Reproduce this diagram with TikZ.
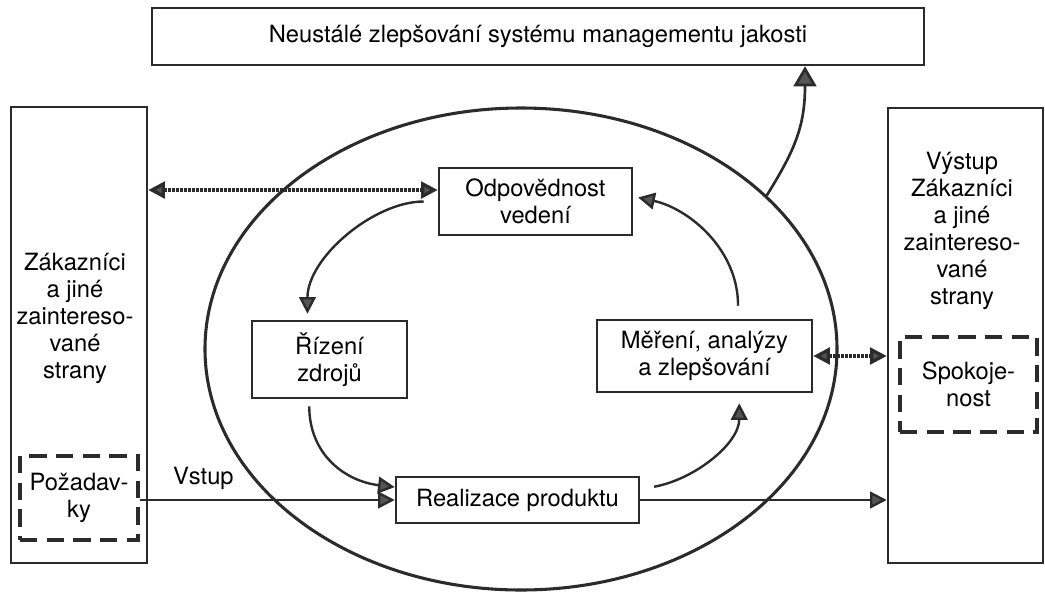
\documentclass[tikz,border=0pt]{standalone}
\usepackage{fontspec}
\setmainfont{TeX Gyre Heros}
\usetikzlibrary{arrows.meta,shapes.geometric}

\definecolor{ink}{HTML}{2B2B2B}
\definecolor{tipfill}{HTML}{555555}
\newdimen\pxu \pxu=0.75pt

\tikzset{
  box/.style={draw=ink, line width=1.9pt, inner sep=0pt, align=center},
  dashbox/.style={draw=ink, line width=2.3pt, dash pattern=on 13pt off 7pt, inner sep=0pt, align=center},
  txt/.style={align=center, inner sep=0pt},
  flow/.style={draw=ink, line width=1.8pt, ->},
  dotflow/.style={draw=ink, line width=2.5pt, dash pattern=on 1.9pt off 1.1pt, <->},
  bigflow/.style={draw=ink, line width=2pt, -{Triangle[length=15pt, width=17pt, fill=tipfill]}}
}

\begin{document}
\begin{tikzpicture}[x=0.75pt, y=-0.75pt, line cap=butt,
    font=\fontsize{17.8}{20.25}\selectfont,
    >={Triangle[length=12.5pt, width=12.5pt, fill=tipfill]}]
  \useasboundingbox (0,0) rectangle (1045,593);
  % outer frames
  \node[box, minimum width=772\pxu, minimum height=57\pxu] (qms) at (538,36.5) {Neustálé zlepšování systému managementu jakosti};
  \node[box, minimum width=136\pxu, minimum height=456\pxu] (cust) at (79,335) {};
  \node[txt] (custtext) at (75,318) {Zákazníci\\a jiné\\zaintereso-\\vané\\strany};
  \node[dashbox, minimum width=118\pxu, minimum height=84\pxu] (req) at (79,498) {Požadav-\\ky};
  \node[box, minimum width=155\pxu, minimum height=455\pxu] (out) at (965.5,335.5) {};
  \node[txt] (outtext) at (962,231) {Výstup\\Zákazníci\\a jiné\\zaintereso-\\vané\\strany};
  \node[dashbox, minimum width=137\pxu, minimum height=95\pxu] (sat) at (968.5,384.5) {Spokoje-\\nost};
  % process loop
  \node[draw=ink, line width=2.3pt, ellipse, inner sep=0pt,
        minimum width=632\pxu, minimum height=482\pxu] (loop) at (521,349) {};
  \node[box, minimum width=193\pxu, minimum height=67\pxu] (lead) at (535.5,201.5) {Odpovědnost\\vedení};
  \node[box, minimum width=155\pxu, minimum height=77\pxu] (res) at (329.5,359.5) {Řízení\\zdrojů};
  \node[box, minimum width=215\pxu, minimum height=72\pxu] (meas) at (704.5,356) {Měření, analýzy\\a zlepšování};
  \node[box, minimum width=243\pxu, minimum height=46\pxu] (prod) at (517.5,500) {Realizace produktu};

  % information links
  \path ([yshift=8.6pt]lead.west) coordinate (leadin);
  \draw[dotflow] (cust.east |- leadin) -- (leadin);
  \draw[dotflow] (meas.east) -- (meas.east -| out.west);

  % input and output
  \draw[flow] (prod.west -| req.east) -- node[txt, pos=0.25, above=7pt] (vstup) {Vstup} (prod.west);
  \draw[flow] (prod.east) -- (prod.east -| out.west);

  % the cycle
  \draw[flow, shorten <=14\pxu, shorten >=6\pxu] (lead.west) .. controls +(-64,0) and +(0,-62) .. (res.119);
  \draw[flow, shorten <=7\pxu] (res.243) .. controls +(0,55) and +(-50,-6) .. (prod.174);
  \draw[flow, shorten <=14\pxu, shorten >=10\pxu] (prod.5) .. controls +(55,-10) and +(0,50) .. (meas.313);
  \draw[flow, shorten <=13\pxu, shorten >=5\pxu] (meas.48) .. controls +(0,-70) and +(55,12) .. (lead.3);
  \draw[bigflow] (loop.32) .. controls +(28,-45) and +(0,60) .. ([xshift=267\pxu]qms.south);
\end{tikzpicture}
\end{document}
